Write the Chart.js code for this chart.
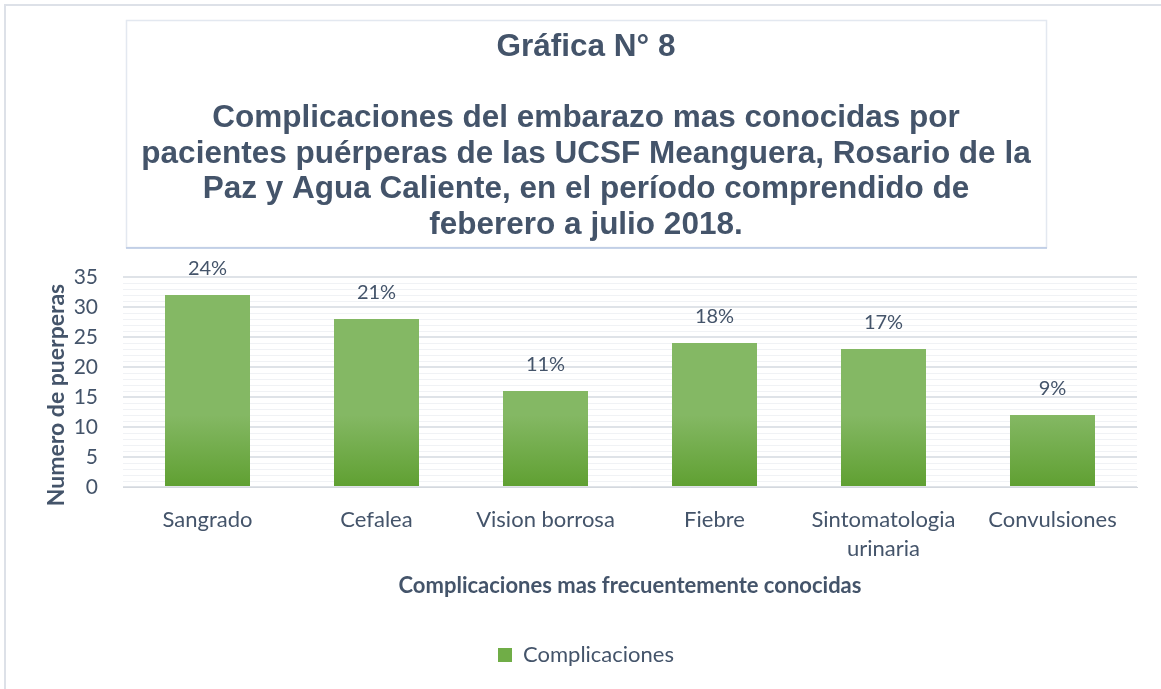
<!DOCTYPE html>
<html>
<head>
<meta charset="utf-8">
<script src="https://cdn.jsdelivr.net/npm/chart.js@4.4.1/dist/chart.umd.min.js"></script>
<style>
  html, body { margin: 0; padding: 0; background: #ffffff; }
  #wrap { position: relative; width: 1161px; height: 689px; }
  canvas { display: block; }
</style>
</head>
<body>
<div id="wrap"><canvas id="c" width="1161" height="689"></canvas></div>
<script>
const categories = ['Sangrado', 'Cefalea', 'Vision borrosa', 'Fiebre', ['Sintomatologia', 'urinaria'], 'Convulsiones'];
const values = [32, 28, 16, 24, 23, 12];
const percentLabels = ['24%', '21%', '11%', '18%', '17%', '9%'];
const seriesName = 'Complicaciones';
const titleLines = [
  'Gráfica N° 8',
  '',
  'Complicaciones del embarazo mas conocidas por',
  'pacientes puérperas de las UCSF Meanguera, Rosario de la',
  'Paz y Agua Caliente, en el período comprendido de',
  'feberero a julio 2018.'
];
const yTitle = 'Numero de puerperas';
const xTitle = 'Complicaciones mas frecuentemente conocidas';

const TEXT = '#44546a';
const BODY_FONT = 'Lato, "Open Sans", sans-serif';

const framePlugin = {
  id: 'frame',
  beforeDraw(chart) {
    const ctx = chart.ctx;
    ctx.save();
    ctx.fillStyle = '#ffffff';
    ctx.fillRect(0, 0, chart.width, chart.height);
    ctx.strokeStyle = '#dde1e8';
    ctx.lineWidth = 2;
    ctx.beginPath();
    ctx.moveTo(5, chart.height + 2);
    ctx.lineTo(5, 5);
    ctx.lineTo(chart.width + 2, 5);
    ctx.stroke();
    ctx.lineWidth = 1.5;
    ctx.strokeStyle = '#e3e8f0';
    ctx.strokeRect(126.5, 20.5, 920, 227);
    ctx.strokeStyle = '#b7c7e3';
    ctx.beginPath();
    ctx.moveTo(126, 248);
    ctx.lineTo(1047, 248);
    ctx.stroke();
    ctx.restore();
  },
  afterDraw(chart) {
    // y-axis title (placed slightly below the plot centre, as in the original)
    const ctx = chart.ctx;
    const a = chart.chartArea;
    ctx.save();
    ctx.translate(57, (a.top + a.bottom) / 2 + 13);
    ctx.rotate(-Math.PI / 2);
    ctx.font = 'bold 23px ' + BODY_FONT;
    ctx.fillStyle = TEXT;
    ctx.textAlign = 'center';
    ctx.textBaseline = 'middle';
    ctx.fillText(yTitle, 0, 0);
    ctx.restore();
  }
};

const barStylePlugin = {
  id: 'barStyle',
  beforeDatasetsDraw(chart) {
    const ctx = chart.ctx;
    chart.getDatasetMeta(0).data.forEach(bar => {
      const g = ctx.createLinearGradient(0, bar.y, 0, bar.base);
      g.addColorStop(0, '#84b864');
      g.addColorStop(1, '#60a032');
      bar.options.backgroundColor = g;
    });
  },
  afterDatasetsDraw(chart) {
    const ctx = chart.ctx;
    ctx.save();
    ctx.font = '20px ' + BODY_FONT;
    ctx.fillStyle = TEXT;
    ctx.textAlign = 'center';
    ctx.textBaseline = 'middle';
    chart.getDatasetMeta(0).data.forEach((bar, i) => {
      ctx.fillText(percentLabels[i], bar.x, bar.y - 26);
    });
    ctx.restore();
  }
};

new Chart(document.getElementById('c'), {
  type: 'bar',
  data: {
    labels: categories,
    datasets: [{
      label: seriesName,
      data: values,
      backgroundColor: '#70ad47',
      borderWidth: 0,
      categoryPercentage: 1,
      barPercentage: 0.503
    }]
  },
  options: {
    responsive: false,
    animation: false,
    layout: { padding: { left: 35, right: 24, top: 0, bottom: 13 } },
    plugins: {
      title: {
        display: true,
        text: titleLines,
        color: TEXT,
        font: { family: '"Liberation Sans", Arial, sans-serif', size: 31.5, weight: 'bold', lineHeight: 35.5 / 31.5 },
        padding: { top: 30, bottom: 34 }
      },
      legend: {
        display: true,
        position: 'bottom',
        labels: {
          color: TEXT,
          font: { family: BODY_FONT, size: 22 },
          boxWidth: 14,
          boxHeight: 14,
          padding: 10
        }
      },
      tooltip: { enabled: false }
    },
    scales: {
      x: {
        grid: { display: false, drawTicks: false },
        border: { display: true, color: '#d4d8de', width: 1 },
        ticks: {
          color: TEXT,
          font: { family: BODY_FONT, size: 22, lineHeight: 29 / 22 },
          padding: 18,
          maxRotation: 0,
          autoSkip: false
        },
        title: {
          display: true,
          text: xTitle,
          color: TEXT,
          font: { family: BODY_FONT, size: 22, weight: 'bold', lineHeight: 1.2 },
          padding: { top: 12, bottom: 35 }
        },
        afterFit(scale) { scale.height = 147; }
      },
      y: {
        min: 0,
        max: 35,
        grid: {
          drawTicks: false,
          color: ctx => (ctx.tick && ctx.tick.value % 5 === 0) ? '#dfe3e8' : '#f0f2f5',
          lineWidth: ctx => (ctx.tick && ctx.tick.value % 5 === 0) ? 2 : 1
        },
        border: { display: false },
        ticks: {
          stepSize: 1,
          autoSkip: false,
          color: TEXT,
          font: { family: BODY_FONT, size: 21 },
          padding: 25,
          callback: v => (v % 5 === 0 ? String(v) : '')
        },
        title: { display: false, text: yTitle },
        afterFit(scale) { scale.width = 88; }
      }
    }
  },
  plugins: [framePlugin, barStylePlugin]
});
</script>
</body>
</html>
